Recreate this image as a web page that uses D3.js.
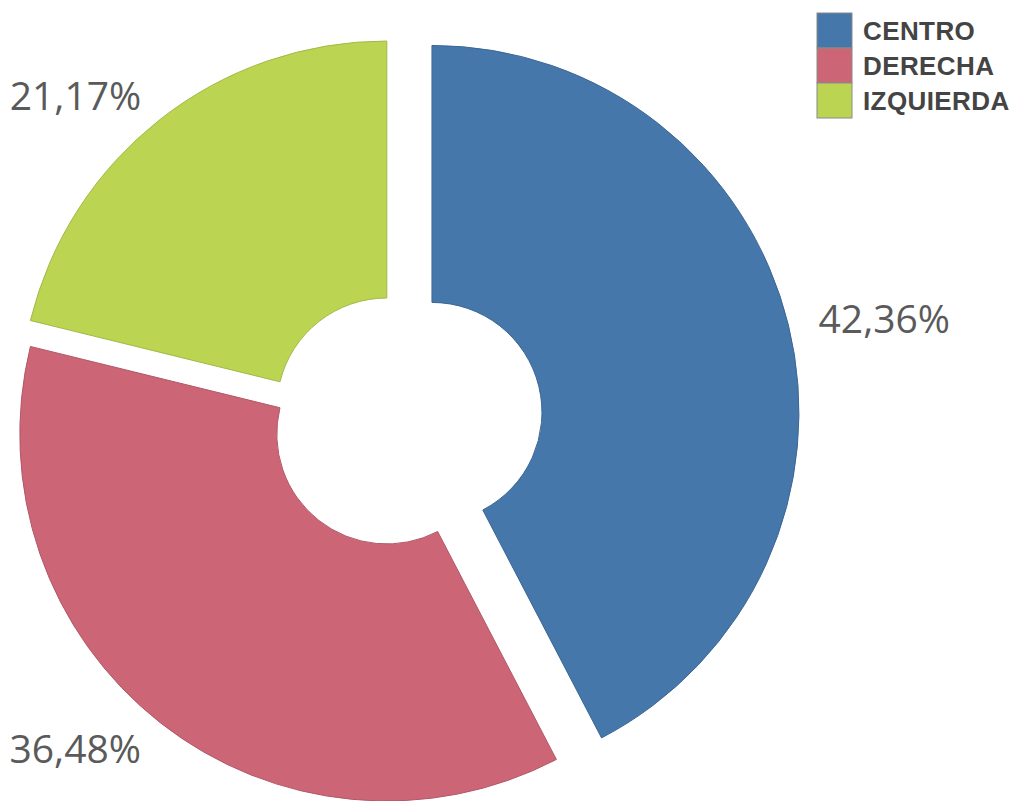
<!DOCTYPE html>
<html>
<head>
<meta charset="utf-8">
<script src="https://cdn.jsdelivr.net/npm/d3@7"></script>
<style>
  body { margin: 0; background: #fff; }
  svg { display: block; }
</style>
</head>
<body>
<div id="chart"></div>
<script>
var categories = ["CENTRO", "DERECHA", "IZQUIERDA"];
var values = [42.36, 36.48, 21.17];
var colors = ["#4577AA", "#CC6677", "#BBD552"];

(function () {
    var w = 1024, h = 801;
    var cx = 397, cy = 421,
        outer_r = 367,
        inner_r = 110,
        label_r = 398;
    // how far each slice is pulled out from the center
    var explode = [36, 16.5, 16.5];

    var es = d3.formatLocale({decimal: ",", thousands: ".", grouping: [3], currency: ["", "€"]});
    var fmt = es.format(".2f");

    var svg = d3.select("#chart")
        .append("svg")
        .attr("width", w)
        .attr("height", h);

    var pie = d3.pie().sort(null).value(function (d) { return d; });
    var arcs = pie(values);

    var arc = d3.arc().innerRadius(inner_r).outerRadius(outer_r);

    function offset(d, i, r) {
        var a = (d.startAngle + d.endAngle) / 2;
        return [Math.sin(a) * r, -Math.cos(a) * r];
    }

    var g = svg.append("g")
        .attr("transform", "translate(" + cx + "," + cy + ")");

    var slices = g.selectAll(".slice")
        .data(arcs)
        .enter().append("g")
        .attr("class", "slice")
        .attr("transform", function (d, i) {
            var o = offset(d, i, explode[i]);
            return "translate(" + o[0] + "," + o[1] + ")";
        });

    slices.append("path")
        .attr("d", arc)
        .attr("fill", function (d, i) { return colors[i]; })
        .attr("stroke", function (d, i) { return d3.color(colors[i]).darker(0.4); })
        .attr("stroke-width", 1);

    slices.append("text")
        .text(function (d, i) { return fmt(values[i]) + "%"; })
        .attr("x", function (d, i) { return offset(d, i, label_r)[0]; })
        .attr("y", function (d, i) { return offset(d, i, label_r)[1]; })
        .attr("text-anchor", function (d) {
            return (d.startAngle + d.endAngle) / 2 < Math.PI ? "start" : "end";
        })
        .attr("dominant-baseline", "central")
        .style("font-family", "'Open Sans', sans-serif")
        .style("font-size", "39px")
        .style("fill", "#5a5a5a");

    // legend
    var box = 35;
    var legend = svg.append("g")
        .attr("transform", "translate(817,13)");

    var items = legend.selectAll(".item")
        .data(categories)
        .enter().append("g")
        .attr("class", "item")
        .attr("transform", function (d, i) { return "translate(0," + i * box + ")"; });

    items.append("rect")
        .attr("width", box)
        .attr("height", box)
        .attr("fill", function (d, i) { return colors[i]; })
        .attr("stroke", "#8a8a8a")
        .attr("stroke-width", 1);

    items.append("text")
        .text(function (d) { return d; })
        .attr("x", box + 11)
        .attr("y", box / 2 + 9)
        .style("font-family", "'Liberation Sans', Arial, sans-serif")
        .style("font-weight", "bold")
        .style("font-size", "26px")
        .style("letter-spacing", "0.4px")
        .style("fill", "#444");
})();
</script>
</body>
</html>
